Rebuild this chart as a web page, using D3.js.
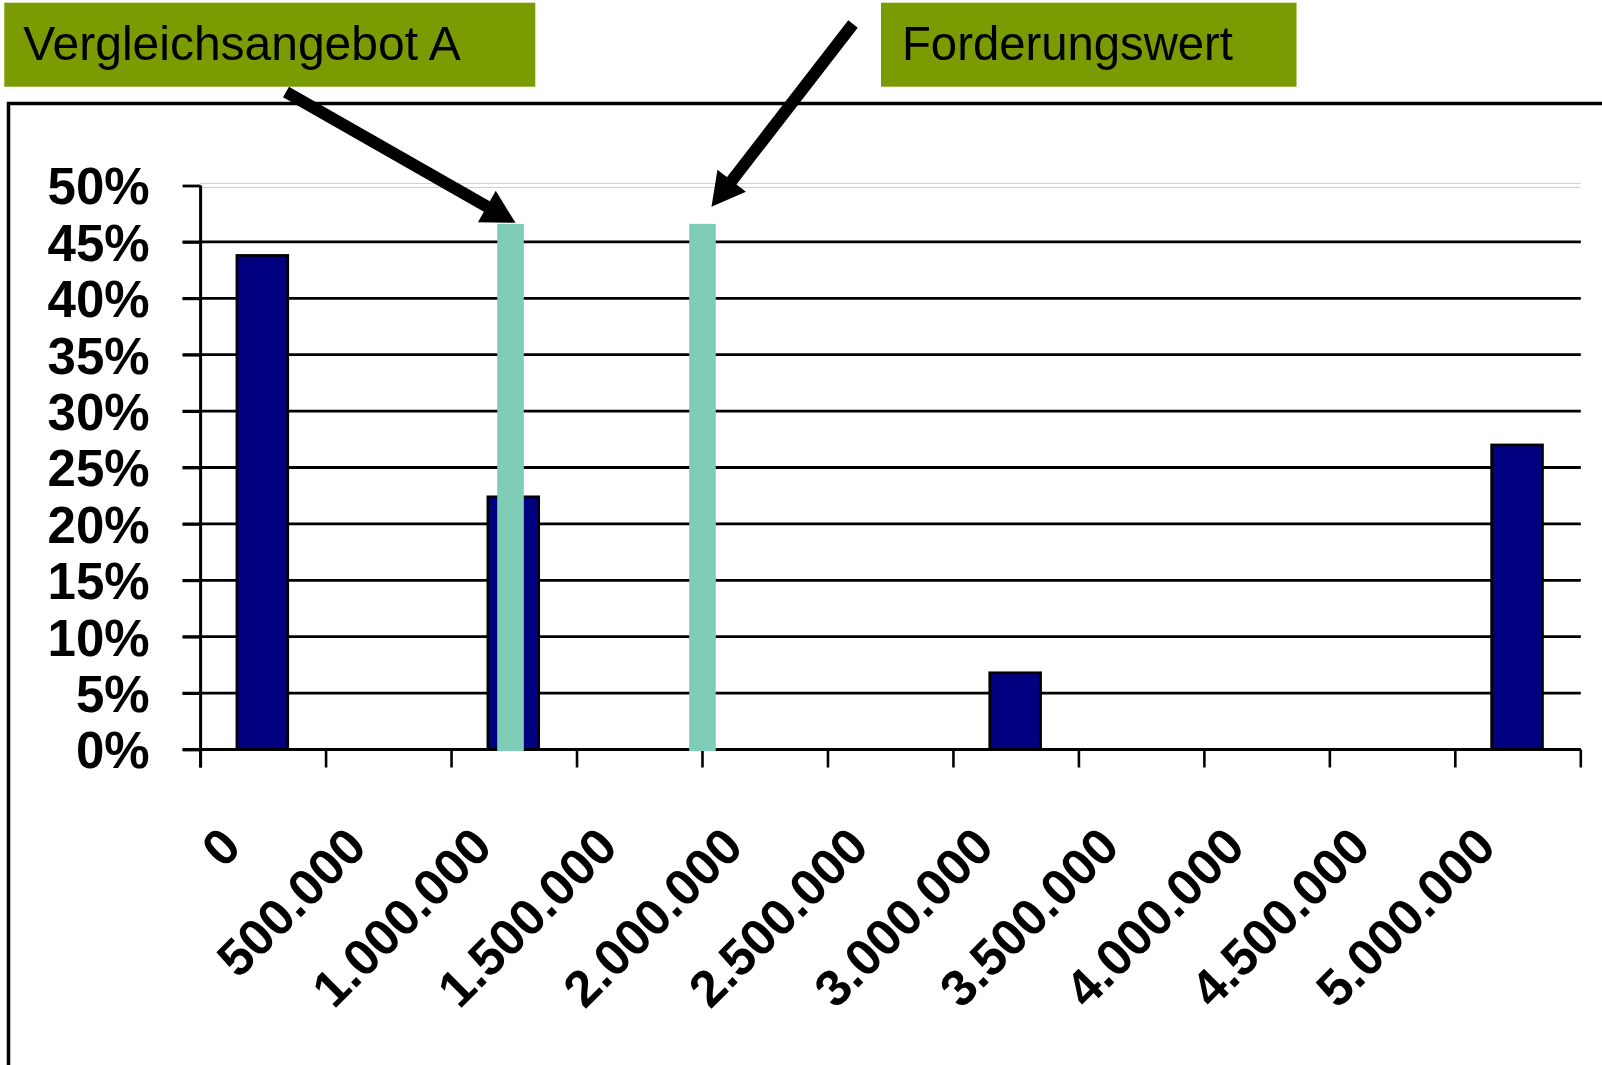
<!DOCTYPE html>
<html>
<head>
<meta charset="utf-8">
<script src="https://cdn.jsdelivr.net/npm/d3@7"></script>
<style>
  html, body { margin: 0; padding: 0; background: #fff; }
  svg { display: block; }
</style>
</head>
<body>
<svg id="chart" width="1602" height="1065"></svg>
<script>
// Claim amounts (category labels) and the share of outcomes falling in each class
const categories = ["0", "500.000", "1.000.000", "1.500.000", "2.000.000", "2.500.000",
                    "3.000.000", "3.500.000", "4.000.000", "4.500.000", "5.000.000"];
const categoryValues = [0, 500000, 1000000, 1500000, 2000000, 2500000,
                        3000000, 3500000, 4000000, 4500000, 5000000];
const shares = [0.438, 0, 0.224, 0, 0, 0, 0.068, 0, 0, 0, 0.270];

// Reference amounts highlighted by the marker columns
const markerLabels = ["Vergleichsangebot A", "Forderungswert"];
const markerValues = [985000, 1750000];
const markerShare = 0.466;

// Value-axis ticks
const yTicks = [0, 0.05, 0.10, 0.15, 0.20, 0.25, 0.30, 0.35, 0.40, 0.45, 0.50];

const svg = d3.select("#chart");

const plot = { left: 200.6, right: 1580.8, top: 185.5, bottom: 749.5 };

const x = d3.scaleBand().domain(categories).range([plot.left, plot.right]).padding(0);
const step = x.bandwidth();
// continuous amount scale aligned with the category centres
const xAmount = d3.scaleLinear()
  .domain([categoryValues[0] - 250000, categoryValues[categoryValues.length - 1] + 250000])
  .range([plot.left, plot.right]);
const y = d3.scaleLinear().domain([0, 0.5]).range([plot.bottom, plot.top]);

// Outer frame
svg.append("rect")
  .attr("x", 8.5).attr("y", 103.5)
  .attr("width", 1700).attr("height", 1100)
  .attr("fill", "none").attr("stroke", "#000").attr("stroke-width", 3.5);

// Top border of the plot area (light grey)
const gTop = svg.append("g");
[-2, 2].forEach(d => {
  gTop.append("line")
    .attr("x1", plot.left).attr("x2", plot.right)
    .attr("y1", y(0.5) + d).attr("y2", y(0.5) + d)
    .attr("stroke", "#cfcfcf").attr("stroke-width", 1.2);
});

// Horizontal gridlines with left tick marks
svg.append("g").selectAll("line")
  .data(yTicks.filter(t => t > 0 && t < 0.5))
  .join("line")
  .attr("x1", plot.left - 18).attr("x2", plot.right)
  .attr("y1", d => y(d)).attr("y2", d => y(d))
  .attr("stroke", "#000").attr("stroke-width", 2.8);

// Y axis
const yAxis = d3.axisLeft(y).tickValues(yTicks).tickFormat(d3.format(".0%"))
  .tickSize(18).tickPadding(33);
const gy = svg.append("g").attr("transform", `translate(${plot.left},0)`).call(yAxis);
gy.select(".domain").remove();
gy.selectAll(".tick line").attr("stroke", "#000").attr("stroke-width", 2.8);
gy.selectAll(".tick text")
  .attr("font-family", "'Liberation Sans', Arial, sans-serif")
  .attr("font-weight", "bold").attr("font-size", 51).attr("fill", "#000")
  .attr("dy", "0.36em");
svg.append("line")
  .attr("x1", plot.left).attr("x2", plot.left)
  .attr("y1", plot.top).attr("y2", plot.bottom + 18)
  .attr("stroke", "#000").attr("stroke-width", 3);

// Category bars
const barW = step * 0.405;
svg.append("g").selectAll("rect")
  .data(categories.map((c, i) => ({ c, v: shares[i] })).filter(d => d.v > 0))
  .join("rect")
  .attr("x", d => x(d.c) + step / 2 - barW / 2 - 1)
  .attr("y", d => y(d.v))
  .attr("width", barW)
  .attr("height", d => y(0) - y(d.v))
  .attr("fill", "#000080").attr("stroke", "#000").attr("stroke-width", 2.7);

// X axis line and ticks (ticks sit on category boundaries)
svg.append("line")
  .attr("x1", plot.left - 18).attr("x2", plot.right)
  .attr("y1", plot.bottom).attr("y2", plot.bottom)
  .attr("stroke", "#000").attr("stroke-width", 3);
const boundaries = d3.range(categories.length + 1).map(i => plot.left + i * step);
svg.append("g").selectAll("line")
  .data(boundaries)
  .join("line")
  .attr("x1", d => d).attr("x2", d => d)
  .attr("y1", plot.bottom).attr("y2", plot.bottom + 18)
  .attr("stroke", "#000").attr("stroke-width", 2.6);

// Rotated category labels
svg.append("g").selectAll("text")
  .data(categories)
  .join("text")
  .attr("transform", d => `translate(${x(d) + step / 2 - 20},${plot.bottom + 100}) rotate(-45)`)
  .attr("text-anchor", "end")
  .attr("font-family", "'Liberation Sans', Arial, sans-serif")
  .attr("font-weight", "bold").attr("font-size", 51).attr("fill", "#000")
  .text(d => d);

// Marker columns
const markerW = 26.6;
svg.append("g").selectAll("rect")
  .data(markerValues)
  .join("rect")
  .attr("x", d => xAmount(d) - markerW / 2)
  .attr("y", y(markerShare))
  .attr("width", markerW)
  .attr("height", y(0) - y(markerShare) + 1.5)
  .attr("fill", "#7fcdb6");

// Callout boxes with arrows pointing at the marker columns
const callouts = [
  { box: [4.3, 2.7, 531, 84], text: [23.2, 60, 437.5], from: [286, 92], tipOffset: [5, -1] },
  { box: [881, 2.7, 415.5, 84], text: [902, 59.5, 331], from: [853, 24], tipOffset: [9, -17] }
];

const gCall = svg.append("g");
callouts.forEach((c, i) => {
  gCall.append("rect")
    .attr("x", c.box[0]).attr("y", c.box[1])
    .attr("width", c.box[2]).attr("height", c.box[3])
    .attr("fill", "#7a9b01");
  gCall.append("text")
    .attr("x", c.text[0]).attr("y", c.text[1])
    .attr("textLength", c.text[2]).attr("lengthAdjust", "spacingAndGlyphs")
    .attr("font-family", "'Liberation Sans', Arial, sans-serif")
    .attr("font-size", 49).attr("fill", "#000")
    .text(markerLabels[i]);

  const tip = [xAmount(markerValues[i]) + c.tipOffset[0], y(markerShare) + c.tipOffset[1]];
  const dx = tip[0] - c.from[0], dy = tip[1] - c.from[1];
  const len = Math.hypot(dx, dy);
  const ux = dx / len, uy = dy / len;
  const headLen = 33, headHalf = 18;
  const base = [tip[0] - ux * headLen, tip[1] - uy * headLen];
  gCall.append("line")
    .attr("x1", c.from[0]).attr("y1", c.from[1])
    .attr("x2", base[0] + ux * 2).attr("y2", base[1] + uy * 2)
    .attr("stroke", "#000").attr("stroke-width", 12);
  const px = -uy, py = ux;
  gCall.append("path")
    .attr("d", d3.line()([
      tip,
      [base[0] + px * headHalf, base[1] + py * headHalf],
      [base[0] - px * headHalf, base[1] - py * headHalf]
    ]) + "Z")
    .attr("fill", "#000");
});
</script>
</body>
</html>
